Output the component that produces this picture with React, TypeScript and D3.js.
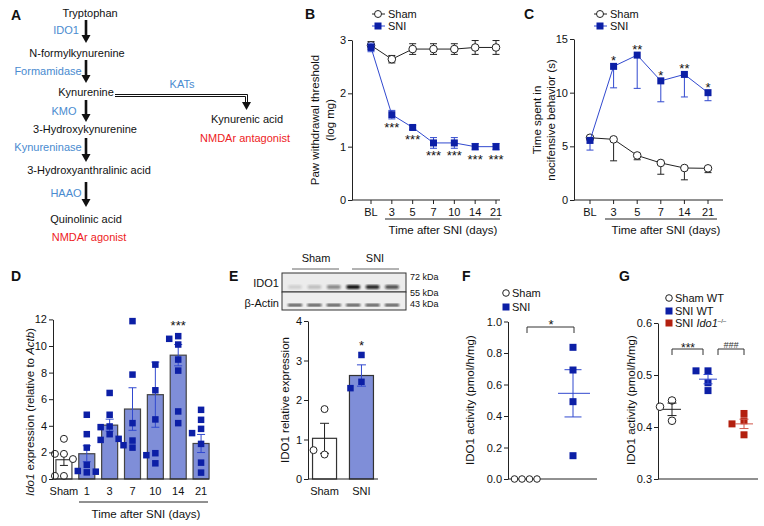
import React, { useRef, useEffect } from 'react';
import * as d3 from 'd3';

const FONT = '"Liberation Sans", Arial, Helvetica, sans-serif';
const NAVY = '#0c1fa6';
const BLUE = '#3149cf';
const BAR = '#7f8ed8';
const RED = '#b3200f';
const LBLUE = '#4a8bd0';
const TRED = '#ee1c24';

// B: paw withdrawal threshold
const bDays = ['BL', '3', '5', '7', '10', '14', '21'];
const bSham = [2.9, 2.64, 2.83, 2.83, 2.83, 2.86, 2.86];
const bShamErr = [0.07, 0.07, 0.1, 0.1, 0.1, 0.13, 0.13];
const bSni = [2.86, 1.6, 1.36, 1.07, 1.07, 1.0, 1.0];
const bSniErr = [0.08, 0.08, 0.04, 0.1, 0.1, 0.06, 0.06];
const bStars = ['', '***', '***', '***', '***', '***', '***'];

// C: nocifensive behavior
const cDays = ['BL', '3', '5', '7', '14', '21'];
const cSham = [5.8, 5.65, 4.15, 3.45, 2.98, 2.95];
const cShamErr = [0.2, 2.0, 0.4, 1.05, 1.1, 0.4];
const cSni = [5.55, 12.45, 13.5, 11.1, 11.7, 10.0];
const cSniErr = [0.9, 2.0, 3.1, 1.95, 2.1, 0.75];
const cStars = ['', '*', '**', '*', '**', '*'];

// D: Ido1 expression
const dGroups = ['Sham', '1', '3', '7', '10', '14', '21'];
const dMeans = [1.45, 1.9, 4.05, 5.26, 6.34, 9.31, 2.67];
const dErr = [0.43, 0.6, 0.45, 1.6, 2.45, 0.8, 0.68];
const dPoints = [
  [3.02, 1.89, 1.89, 1.5, 0.23, 0.23],
  [4.83, 3.37, 2.36, 1.06, 0.6, 0.5, 0.55],
  [6.47, 4.83, 3.95, 3.9, 3.37, 2.94, 3.02],
  [11.87, 7.85, 4.2, 2.89, 2.36, 2.54],
  [8.6, 6.67, 4.48, 1.94, 1.79, 1.18],
  [10.74, 10.54, 10.11, 8.98, 8.15, 5.08, 4.2],
  [5.2, 4.45, 3.77, 3.45, 2.64, 1.23, 0.48],
];

// E: western blot + quantification
const eGroups = ['Sham', 'SNI'];
const eMeans = [1.03, 2.62];
const eErr = [0.38, 0.27];
const ePoints = [
  [1.77, 0.62, 0.73],
  [3.14, 2.46, 2.3],
];
const blotIdo1 = [0.12, 0.2, 0.45, 1, 0.9, 0.7];
const blotActin = [0.85, 0.85, 0.85, 0.85, 0.85, 0.85];

// F: IDO1 activity
const fGroups = ['Sham', 'SNI'];
const fPoints = [
  [0, 0, 0, 0],
  [0.836, 0.692, 0.491, 0.148],
];
const fMeans = [0, 0.544];
const fErr = [0, 0.15];

// G: IDO1 activity by genotype
const gGroups = ['Sham WT', 'SNI WT', 'SNI Ido1'];
const gPoints = [
  [0.451, 0.439, 0.412],
  [0.508, 0.508, 0.485, 0.47],
  [0.426, 0.412, 0.406, 0.385],
];
const gMeans = [0.434, 0.492, 0.406];
const gErr = [0.012, 0.009, 0.009];

type Sel = d3.Selection<SVGGElement, unknown, null, undefined>;

function text(g: Sel, x: number, y: number, s: string, o: any = {}) {
  const t = g.append('text').attr('x', x).attr('y', y).text(s)
    .attr('font-family', FONT).attr('font-size', o.size ?? 11)
    .attr('text-anchor', o.anchor ?? 'start').attr('fill', o.fill ?? '#111');
  if (o.weight) t.attr('font-weight', o.weight);
  if (o.rotate) t.attr('transform', `rotate(${o.rotate},${x},${y})`);
  return t;
}

function line(g: Sel, x1: number, y1: number, x2: number, y2: number, c = '#222', w = 1) {
  g.append('line').attr('x1', x1).attr('y1', y1).attr('x2', x2).attr('y2', y2)
    .attr('stroke', c).attr('stroke-width', w);
}

function yAxis(g: Sel, x: number, scale: any, ticks: number[], fmt: any) {
  const a = g.append('g').attr('transform', `translate(${x},0)`)
    .call(d3.axisLeft(scale).tickValues(ticks).tickSize(4).tickSizeOuter(0).tickPadding(2).tickFormat(fmt));
  a.selectAll('path.domain').attr('stroke', '#222');
  a.selectAll('line').attr('stroke', '#222');
  a.selectAll('text').attr('font-family', FONT).attr('font-size', 11).attr('fill', '#111');
}

function xAxis(g: Sel, y: number, x0: number, x1: number, pos: (d: string) => number, labels: string[], tick = true) {
  line(g, x0, y, x1, y);
  labels.forEach((l) => {
    if (tick) line(g, pos(l), y, pos(l), y + 4);
    text(g, pos(l), y + 16, l, { anchor: 'middle' });
  });
}

function errBar(g: Sel, x: number, yc: number, lo: number, hi: number, cap: number, c: string) {
  line(g, x, lo, x, hi, c);
  if (hi !== yc) line(g, x - cap / 2, hi, x + cap / 2, hi, c);
  if (lo !== yc) line(g, x - cap / 2, lo, x + cap / 2, lo, c);
}

function square(g: Sel, x: number, y: number, s: number, fill: string) {
  g.append('rect').attr('x', x - s / 2).attr('y', y - s / 2).attr('width', s).attr('height', s).attr('fill', fill);
}

function circle(g: Sel, x: number, y: number, r: number) {
  g.append('circle').attr('cx', x).attr('cy', y).attr('r', r)
    .attr('fill', '#fff').attr('stroke', '#222').attr('stroke-width', 1);
}

// spread points that would overlap horizontally
function dodge(vals: number[], y: (v: number) => number, step: number) {
  const placed: { x: number; y: number }[] = [];
  const order = [0, -1, 1, -2, 2, -3, 3];
  return vals.map((v) => {
    const py = y(v);
    for (const k of order) {
      const px = k * step;
      if (!placed.some((p) => Math.abs(p.x - px) < step * 0.9 && Math.abs(p.y - py) < 7)) {
        placed.push({ x: px, y: py });
        return { dx: px, y: py };
      }
    }
    return { dx: 0, y: py };
  });
}

function arrowDown(g: Sel, x: number, y1: number, y2: number) {
  g.append('rect').attr('x', x - 1.3).attr('y', y1).attr('width', 2.6).attr('height', y2 - y1 - 7).attr('fill', '#111');
  g.append('path').attr('d', `M${x - 4.5},${y2 - 8}L${x + 4.5},${y2 - 8}L${x},${y2}Z`).attr('fill', '#111');
}

function drawA(g: Sel) {
  text(g, 11, 20, 'A', { size: 14, weight: 'bold' });
  text(g, 90, 17, 'Tryptophan', { anchor: 'middle' });
  text(g, 66, 34, 'IDO1', { anchor: 'middle', fill: LBLUE });
  arrowDown(g, 86, 20, 43);
  text(g, 77, 57, 'N-formylkynurenine', { anchor: 'middle' });
  text(g, 48, 75, 'Formamidase', { anchor: 'middle', fill: LBLUE });
  arrowDown(g, 86, 60, 83);
  text(g, 86, 96, 'Kynurenine', { anchor: 'middle' });
  text(g, 182, 88, 'KATs', { anchor: 'middle', fill: LBLUE });
  g.append('path').attr('d', 'M115,94.5H247.5V103 M115,96.5H245.5V103')
    .attr('fill', 'none').attr('stroke', '#111').attr('stroke-width', 1);
  g.append('path').attr('d', 'M242,102L251,102L246.5,110Z').attr('fill', '#111');
  text(g, 247, 123, 'Kynurenic acid', { anchor: 'middle' });
  text(g, 245, 142, 'NMDAr antagonist', { anchor: 'middle', fill: TRED });
  text(g, 64, 115, 'KMO', { anchor: 'middle', fill: LBLUE });
  arrowDown(g, 86, 100, 122);
  text(g, 85, 133, '3-Hydroxykynurenine', { anchor: 'middle' });
  text(g, 48, 151, 'Kynureninase', { anchor: 'middle', fill: LBLUE });
  arrowDown(g, 86, 138, 162);
  text(g, 89, 174, '3-Hydroxyanthralinic acid', { anchor: 'middle' });
  text(g, 66, 197, 'HAAO', { anchor: 'middle', fill: LBLUE });
  arrowDown(g, 86, 182, 207);
  text(g, 86, 223, 'Quinolinic acid', { anchor: 'middle' });
  text(g, 89, 241, 'NMDAr agonist', { anchor: 'middle', fill: TRED });
}

function legendLine(g: Sel, x: number, y: number, label: string, kind: 'circle' | 'square') {
  line(g, x - 6, y, x + 7, y, kind === 'circle' ? '#222' : BLUE);
  if (kind === 'circle') circle(g, x, y, 3.5);
  else square(g, x, y, 7, NAVY);
  text(g, x + 10, y + 4, label);
}

function drawB(g: Sel) {
  text(g, 305, 19, 'B', { size: 14, weight: 'bold' });
  const x = d3.scalePoint<string>().domain(bDays).range([371, 496]);
  const y = d3.scaleLinear().domain([0, 3]).range([200, 40]);
  yAxis(g, 352, y, [0, 1, 2, 3], d3.format('d'));
  xAxis(g, 200, 352, 500, (d) => x(d)!, bDays);
  line(g, 385, 219, 500, 219);
  text(g, 443, 234, 'Time after SNI (days)', { anchor: 'middle', size: 11.5 });
  text(g, 319, 120, 'Paw withdrawal threshold', { anchor: 'middle', rotate: -90, size: 11.5 });
  text(g, 334, 120, '(log mg)', { anchor: 'middle', rotate: -90, size: 11.5 });
  const ln = d3.line<number>().x((_, i) => x(bDays[i])!).y((d) => y(d));
  g.append('path').datum(bSham).attr('d', ln).attr('fill', 'none').attr('stroke', '#222');
  bSham.forEach((v, i) => {
    errBar(g, x(bDays[i])!, y(v), y(v - bShamErr[i]), y(v + bShamErr[i]), 7, '#222');
    circle(g, x(bDays[i])!, y(v), 3.8);
  });
  g.append('path').datum(bSni).attr('d', ln).attr('fill', 'none').attr('stroke', BLUE);
  bSni.forEach((v, i) => {
    errBar(g, x(bDays[i])!, y(v), y(v - bSniErr[i]), y(v + bSniErr[i]), 7, BLUE);
    square(g, x(bDays[i])!, y(v), 7, NAVY);
    if (bStars[i]) text(g, x(bDays[i])!, y(v) + 17, bStars[i], { anchor: 'middle', size: 13 });
  });
  legendLine(g, 378, 14, 'Sham', 'circle');
  legendLine(g, 378, 26, 'SNI', 'square');
}

function drawC(g: Sel) {
  text(g, 524, 19, 'C', { size: 14, weight: 'bold' });
  const x = d3.scalePoint<string>().domain(cDays).range([590, 708]);
  const y = d3.scaleLinear().domain([0, 15]).range([200, 39]);
  yAxis(g, 574, y, [0, 5, 10, 15], d3.format('d'));
  xAxis(g, 200, 574, 723, (d) => x(d)!, cDays);
  line(g, 605, 219, 717, 219);
  text(g, 666, 234, 'Time after SNI (days)', { anchor: 'middle', size: 11.5 });
  text(g, 541, 120, 'Time spent in', { anchor: 'middle', rotate: -90, size: 11.5 });
  text(g, 555, 120, 'nocifensive behavior (s)', { anchor: 'middle', rotate: -90, size: 11.5 });
  const ln = d3.line<number>().x((_, i) => x(cDays[i])!).y((d) => y(d));
  g.append('path').datum(cSham).attr('d', ln).attr('fill', 'none').attr('stroke', '#222');
  cSham.forEach((v, i) => {
    errBar(g, x(cDays[i])!, y(v), y(v - cShamErr[i]), y(v), 7, '#222');
    circle(g, x(cDays[i])!, y(v), 3.8);
  });
  g.append('path').datum(cSni).attr('d', ln).attr('fill', 'none').attr('stroke', BLUE);
  cSni.forEach((v, i) => {
    errBar(g, x(cDays[i])!, y(v), y(v - cSniErr[i]), y(v), 7, BLUE);
    square(g, x(cDays[i])!, y(v), 7, NAVY);
    if (cStars[i]) text(g, x(cDays[i])!, y(v) - 1, cStars[i], { anchor: 'middle', size: 13 });
  });
  legendLine(g, 600, 14, 'Sham', 'circle');
  legendLine(g, 600, 26, 'SNI', 'square');
}

function drawD(g: Sel) {
  text(g, 11, 281, 'D', { size: 14, weight: 'bold' });
  const x = d3.scaleBand<string>().domain(dGroups).range([52.5, 212.5]).paddingInner(0.3).paddingOuter(0.15);
  const y = d3.scaleLinear().domain([0, 12]).range([479, 319.4]);
  const cx = (d: string) => x(d)! + x.bandwidth() / 2;
  dGroups.forEach((grp, i) => {
    g.append('rect').attr('x', x(grp)!).attr('y', y(dMeans[i])).attr('width', x.bandwidth())
      .attr('height', y(0) - y(dMeans[i])).attr('fill', i === 0 ? '#fff' : BAR)
      .attr('stroke', '#444').attr('stroke-width', 1.2);
  });
  dGroups.forEach((grp, i) => {
    const c = i === 0 ? '#222' : BLUE;
    errBar(g, cx(grp), y(dMeans[i]), y(dMeans[i] - dErr[i]), y(dMeans[i] + dErr[i]), 8, c);
    dodge(dPoints[i], y, 9).forEach((p) => {
      if (i === 0) circle(g, cx(grp) + p.dx, p.y, 3.5);
      else square(g, cx(grp) + p.dx, p.y, 6.5, NAVY);
    });
  });
  yAxis(g, 53, y, [0, 2, 4, 6, 8, 10, 12], d3.format('d'));
  xAxis(g, 479, 53, 209, cx, dGroups, false);
  text(g, cx('14'), 330, '***', { anchor: 'middle', size: 13 });
  line(g, 79, 502, 208, 502);
  text(g, 146, 518, 'Time after SNI (days)', { anchor: 'middle', size: 11.5 });
  const t = text(g, 34, 412, '', { anchor: 'middle', rotate: -90, size: 11.5 });
  t.append('tspan').attr('font-style', 'italic').text('Ido1');
  t.append('tspan').text(' expression (relative to ');
  t.append('tspan').attr('font-style', 'italic').text('Actb');
  t.append('tspan').text(')');
}

function drawE(g: Sel) {
  text(g, 229, 281, 'E', { size: 14, weight: 'bold' });
  // blot
  const defs = g.append('defs');
  defs.append('filter').attr('id', 'blur').append('feGaussianBlur').attr('stdDeviation', 0.9);
  const lanes = d3.scalePoint<number>().domain(d3.range(6)).range([295, 392]);
  text(g, 316, 262, 'Sham', { anchor: 'middle' });
  line(g, 292, 269, 339, 269, '#666');
  text(g, 375, 262, 'SNI', { anchor: 'middle' });
  line(g, 352, 269, 399, 269, '#666');
  g.append('rect').attr('x', 282).attr('y', 273).attr('width', 124).attr('height', 19).attr('fill', '#ececec').attr('stroke', '#333');
  g.append('rect').attr('x', 282).attr('y', 292).attr('width', 124).attr('height', 18).attr('fill', '#eeeeee').attr('stroke', '#333');
  blotIdo1.forEach((v, i) => {
    g.append('rect').attr('x', lanes(i)! - 7).attr('y', 285).attr('width', 14).attr('height', 4).attr('rx', 2)
      .attr('fill', '#111').attr('opacity', v).attr('filter', 'url(#blur)');
  });
  blotActin.forEach((v, i) => {
    g.append('rect').attr('x', lanes(i)! - 7).attr('y', 304).attr('width', 14).attr('height', 2.2)
      .attr('fill', '#111').attr('opacity', v).attr('filter', 'url(#blur)');
  });
  text(g, 279, 287, 'IDO1', { anchor: 'end' });
  text(g, 279, 307, 'β-Actin', { anchor: 'end' });
  text(g, 410, 280, '72 kDa', { size: 9 });
  text(g, 410, 296, '55 kDa', { size: 9 });
  text(g, 410, 307, '43 kDa', { size: 9 });
  // bars
  const x = d3.scaleBand<string>().domain(eGroups).range([307, 379]).paddingInner(0.35).paddingOuter(0.15);
  const y = d3.scaleLinear().domain([0, 4]).range([479, 321]);
  const cx = (d: string) => x(d)! + x.bandwidth() / 2;
  eGroups.forEach((grp, i) => {
    g.append('rect').attr('x', x(grp)!).attr('y', y(eMeans[i])).attr('width', x.bandwidth())
      .attr('height', y(0) - y(eMeans[i])).attr('fill', i === 0 ? '#fff' : BAR)
      .attr('stroke', '#333').attr('stroke-width', 1.2);
    errBar(g, cx(grp), y(eMeans[i]), y(eMeans[i] - eErr[i]), y(eMeans[i] + eErr[i]), 9, i === 0 ? '#222' : BLUE);
    dodge(ePoints[i], y, 11).forEach((p) => {
      if (i === 0) circle(g, cx(grp) + p.dx, p.y, 3.5);
      else square(g, cx(grp) + p.dx, p.y, 6.5, NAVY);
    });
  });
  text(g, cx('SNI'), 350, '*', { anchor: 'middle', size: 13 });
  yAxis(g, 308, y, [0, 1, 2, 3, 4], d3.format('d'));
  xAxis(g, 479, 308, 378, cx, eGroups, false);
  text(g, 289, 400, 'IDO1 relative expression', { anchor: 'middle', rotate: -90, size: 11.5 });
}

function drawF(g: Sel) {
  text(g, 462, 281, 'F', { size: 14, weight: 'bold' });
  const x = d3.scalePoint<string>().domain(fGroups).range([526, 573]);
  const y = d3.scaleLinear().domain([0, 1]).range([479, 321.5]);
  yAxis(g, 508, y, [0, 0.2, 0.4, 0.6, 0.8, 1.0], d3.format('.1f'));
  line(g, 508, 479, 597, 479);
  text(g, 474, 400, 'IDO1 activity (pmol/h/mg)', { anchor: 'middle', rotate: -90, size: 11.5 });
  fGroups.forEach((grp, i) => {
    const c = i === 0 ? '#444' : BLUE;
    const px = x(grp)!;
    if (i > 0) {
      line(g, px - 15, y(fMeans[i]), px + 17, y(fMeans[i]), c);
      errBar(g, px, y(fMeans[i]), y(fMeans[i] - fErr[i]), y(fMeans[i] + fErr[i]), 17, c);
    }
    dodge(fPoints[i], y, 7.5).forEach((p) => {
      if (i === 0) circle(g, px + p.dx + 3.5, p.y, 3.3);
      else square(g, px + p.dx, p.y, 7, NAVY);
    });
  });
  g.append('path').attr('d', `M527,333V327H574V333`).attr('fill', 'none').attr('stroke', '#333');
  text(g, 551, 329, '*', { anchor: 'middle', size: 13 });
  circle(g, 506, 293, 3.3);
  text(g, 512, 297, 'Sham');
  square(g, 506, 307, 7, NAVY);
  text(g, 512, 311, 'SNI');
}

function drawG(g: Sel) {
  text(g, 619, 281, 'G', { size: 14, weight: 'bold' });
  const x = d3.scalePoint<string>().domain(gGroups).range([672, 744]);
  const y = d3.scaleLinear().domain([0.3, 0.6]).range([479, 323]);
  yAxis(g, 658, y, [0.3, 0.4, 0.5, 0.6], d3.format('.1f'));
  line(g, 658, 479, 758, 479);
  text(g, 635, 400, 'IDO1 activity (pmol/h/mg)', { anchor: 'middle', rotate: -90, size: 11.5 });
  const colors = ['#222', BLUE, '#d0574a'];
  gGroups.forEach((grp, i) => {
    const px = x(grp)!;
    dodge(gPoints[i], y, 12).forEach((p) => {
      if (i === 0) circle(g, px + p.dx, p.y, 3.8);
      else square(g, px + p.dx, p.y, 7, i === 1 ? NAVY : RED);
    });
    line(g, px - 9, y(gMeans[i]), px + 9, y(gMeans[i]), colors[i]);
    errBar(g, px, y(gMeans[i]), y(gMeans[i] - gErr[i]), y(gMeans[i] + gErr[i]), 9, colors[i]);
  });
  g.append('path').attr('d', 'M672,355V349H703V355').attr('fill', 'none').attr('stroke', '#333');
  text(g, 688, 352, '***', { anchor: 'middle', size: 12 });
  g.append('path').attr('d', 'M718,355V349H744V355').attr('fill', 'none').attr('stroke', '#333');
  text(g, 731, 348, '###', { anchor: 'middle', size: 9, fill: '#333' }).attr('font-style', 'italic');
  circle(g, 669, 298, 3.3);
  text(g, 675, 302, 'Sham WT');
  square(g, 669, 311, 7, NAVY);
  text(g, 675, 315, 'SNI WT');
  square(g, 669, 323, 7, RED);
  const t = text(g, 675, 327, 'SNI ');
  t.append('tspan').attr('font-style', 'italic').text('Ido1');
  t.append('tspan').attr('font-size', 6).attr('dy', -4).text('–/–');
}

const App = () => {
  const svgRef = useRef<SVGSVGElement>(null);

  useEffect(() => {
    const svg = d3.select(svgRef.current);
    svg.selectAll('*').remove();
    drawA(svg.append('g'));
    drawB(svg.append('g'));
    drawC(svg.append('g'));
    drawD(svg.append('g'));
    drawE(svg.append('g'));
    drawF(svg.append('g'));
    drawG(svg.append('g'));
  }, []);

  return (
    <svg ref={svgRef} width={764} height={526}
      style={{ position: 'absolute', left: 0, top: 0, background: '#fff' }} />
  );
};

export default App;
